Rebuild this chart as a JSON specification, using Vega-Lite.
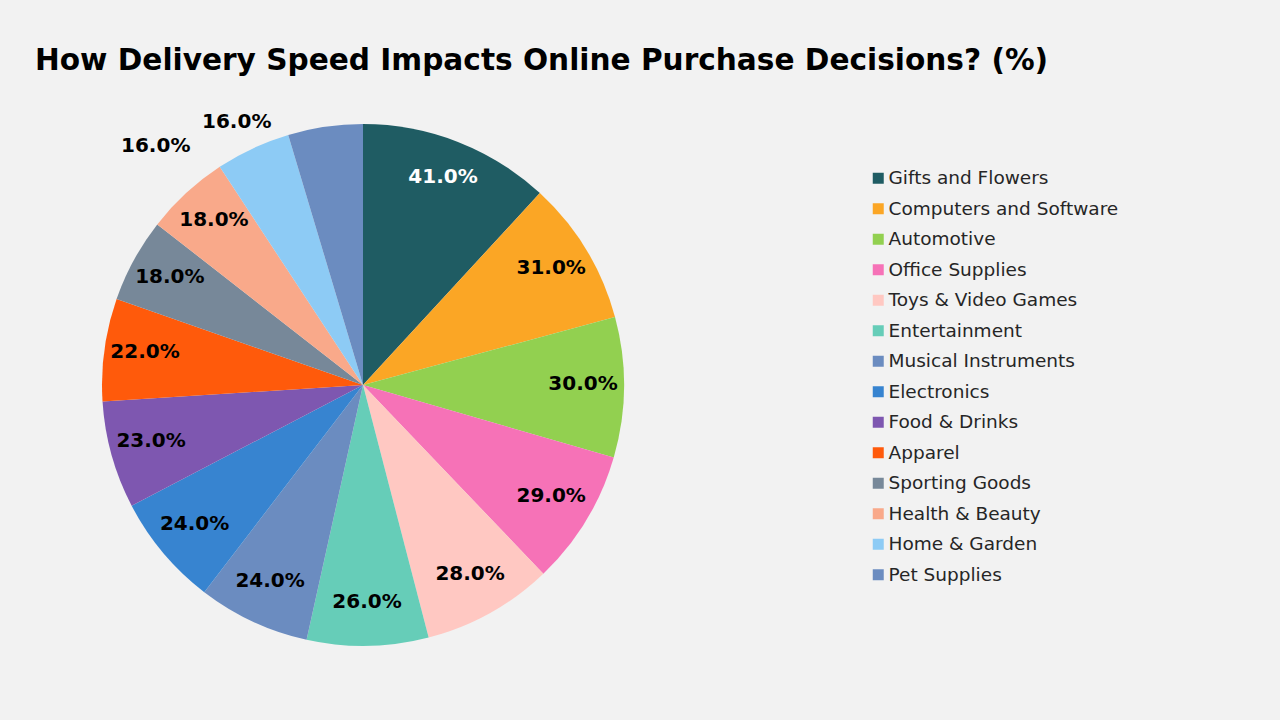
{
  "$schema": "https://vega.github.io/schema/vega-lite/v6.json",
  "autosize": {"type": "none"},
  "width": 522,
  "height": 522,
  "padding": {"left": 102, "top": 124, "right": 656, "bottom": 74},
  "background": "#F2F2F2",
  "title": {
    "text": "How Delivery Speed Impacts Online Purchase Decisions? (%)",
    "anchor": "start",
    "frame": "group",
    "font": "DejaVu Sans",
    "fontSize": 29.6,
    "fontWeight": "bold",
    "color": "#000000",
    "dx": -67,
    "offset": 35
  },
  "data": {
    "values": [
      {"category": "Gifts and Flowers", "value": 41, "order": 1},
      {"category": "Computers and Software", "value": 31, "order": 2},
      {"category": "Automotive", "value": 30, "order": 3},
      {"category": "Office Supplies", "value": 29, "order": 4},
      {"category": "Toys & Video Games", "value": 28, "order": 5},
      {"category": "Entertainment", "value": 26, "order": 6},
      {"category": "Musical Instruments", "value": 24, "order": 7},
      {"category": "Electronics", "value": 24, "order": 8},
      {"category": "Food & Drinks", "value": 23, "order": 9},
      {"category": "Apparel", "value": 22, "order": 10},
      {"category": "Sporting Goods", "value": 18, "order": 11},
      {"category": "Health & Beauty", "value": 18, "order": 12},
      {"category": "Home & Garden", "value": 16, "order": 13},
      {"category": "Pet Supplies", "value": 16, "order": 14}
    ]
  },
  "transform": [{"calculate": "format(datum.value, '.1f') + '%'", "as": "label"}],
  "encoding": {
    "theta": {"field": "value", "type": "quantitative", "stack": true},
    "order": {"field": "order", "type": "quantitative", "sort": "ascending"},
    "color": {
      "field": "category",
      "type": "nominal",
      "sort": null,
      "scale": {
        "domain": ["Gifts and Flowers", "Computers and Software", "Automotive", "Office Supplies", "Toys & Video Games", "Entertainment", "Musical Instruments", "Electronics", "Food & Drinks", "Apparel", "Sporting Goods", "Health & Beauty", "Home & Garden", "Pet Supplies"],
        "range": ["#1F5C63", "#FBA625", "#92D050", "#F672B7", "#FFC8C2", "#66CDB8", "#6B8CC0", "#3784D0", "#7E57B0", "#FF5A0B", "#778899", "#F9A98A", "#8DCBF5", "#6B8CC0"]
      },
      "legend": {
        "title": null,
        "orient": "none",
        "legendX": 767,
        "legendY": 45,
        "symbolType": "square",
        "symbolSize": 121,
        "symbolStrokeWidth": 0,
        "labelFont": "DejaVu Sans",
        "labelFontSize": 18.5,
        "labelColor": "#262626",
        "labelOffset": 1,
        "rowPadding": 11.5,
        "labelLimit": 400
      }
    }
  },
  "layer": [
    {
      "mark": {"type": "arc", "outerRadius": 261}
    },
    {
      "mark": {"type": "text", "radius": 220, "dy": -3, "font": "DejaVu Sans", "fontSize": 20, "fontWeight": "bold"},
      "encoding": {
        "text": {"field": "label"},
        "color": {
          "condition": {"test": "datum.order == 1", "value": "#FFFFFF"},
          "value": "#000000"
        },
        "opacity": {
          "condition": {"test": "datum.order > 12", "value": 0},
          "value": 1
        }
      }
    },
    {
      "mark": {"type": "text", "radius": 292, "dx": -84, "dy": 26, "font": "DejaVu Sans", "fontSize": 20, "fontWeight": "bold"},
      "encoding": {
        "text": {"field": "label"},
        "color": {"value": "#000000"},
        "opacity": {
          "condition": {"test": "datum.order > 12", "value": 1},
          "value": 0
        }
      }
    }
  ]
}
